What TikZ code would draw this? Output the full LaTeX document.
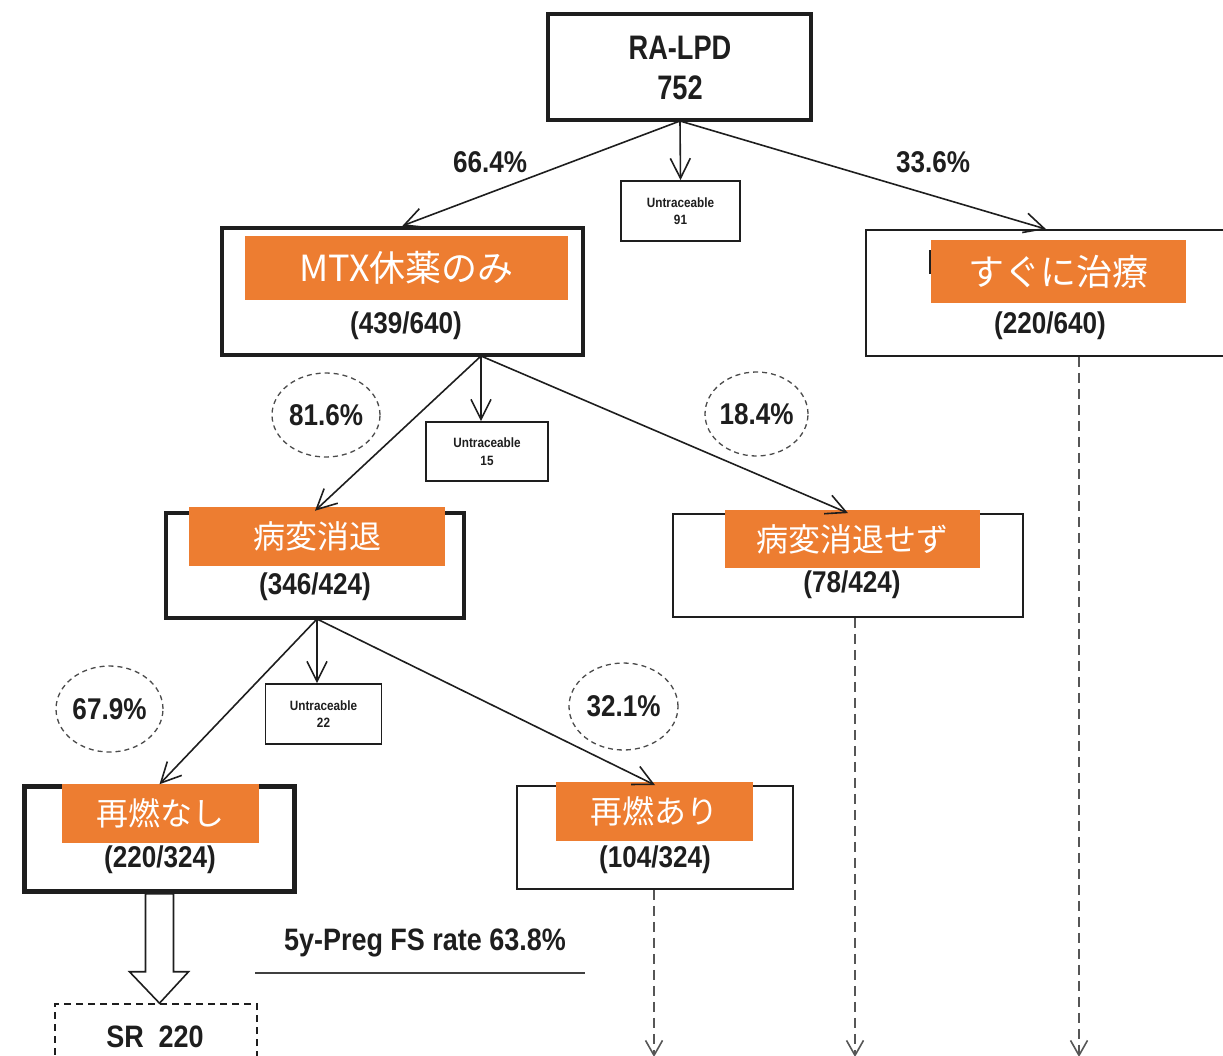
\documentclass[tikz,border=0pt]{standalone}
\usepackage{fontspec}
\setmainfont{Liberation Sans}
\newfontfamily\nar{Liberation Sans}[FakeStretch=0.8]
\newfontfamily\narb{Liberation Sans}[FakeStretch=0.87]
\newfontfamily\cjk{Noto Sans CJK JP}
\usetikzlibrary{arrows.meta,calc,shapes.geometric}
\definecolor{orng}{HTML}{ED7D31}
\definecolor{ink}{HTML}{1E1E1E}
\begin{document}
\begin{tikzpicture}[x=1pt,y=-1pt,
  thickbox/.style={draw=ink, line width=4.5pt, inner sep=0pt},
  thinbox/.style={draw=ink, line width=1.8pt, inner sep=0pt},
  orbox/.style={fill=orng, text=white, inner sep=0pt},
  jp/.style={font=\cjk\fontsize{#1}{#1}\selectfont},
  cnt/.style={inner sep=0pt, font=\narb\fontsize{30}{30}\selectfont\bfseries, text=ink},
  pct/.style={inner sep=0pt, font=\narb\fontsize{30}{30}\selectfont\bfseries, text=ink},
  untr/.style={inner sep=0pt, font=\narb\fontsize{13.5}{13.5}\selectfont\bfseries, text=ink, align=center},
  ell/.style={draw=ink!80, line width=1.3pt, dash pattern=on 5pt off 4pt, ellipse},
  conn/.style={draw=ink, line width=1.6pt, -{Straight Barb[length=20pt,width=20pt,line width=1.6pt]}},
  dconn/.style={draw=ink!75, line width=1.6pt, dash pattern=on 10pt off 6pt, -{Straight Barb[length=15pt,width=17pt,line width=1.6pt]}}
]
\useasboundingbox (0,0) rectangle (1223,1055);
\clip (0,0) rectangle (1223,1055);

% root
\node[thickbox, minimum width=263pt, minimum height=106pt] (root) at (679.5,67) {};
\node[inner sep=0pt, font=\nar\fontsize{34}{34}\selectfont\bfseries, text=ink] (rootA) at (680,48) {RA-LPD};
\node[inner sep=0pt, font=\nar\fontsize{34}{34}\selectfont\bfseries, text=ink] (rootB) at (680,88) {752};

% untraceable 91
\node[thinbox, minimum width=119pt, minimum height=60pt] (u91) at (680.5,211) {};
\node[untr] (u91t) at (680.5,211) {Untraceable\\[4pt]91};

% MTX box
\node[thickbox, minimum width=361pt, minimum height=127pt] (mtx) at (402.5,291.5) {};
\node[orbox, minimum width=323pt, minimum height=64pt, jp=36] (mtxl) at (406.5,268) {MTX休薬のみ};
\node[cnt] (mtxc) at (406,326) {(439/640)};

% right box
\node[thinbox, minimum width=360pt, minimum height=126pt] (imm) at (1046,293) {};
\fill[ink] (929,250) rectangle (934,274);
\node[orbox, minimum width=255pt, minimum height=63pt, jp=36] (imml) at (1058.5,271.5) {すぐに治療};
\node[cnt] (immc) at (1050,326) {(220/640)};

% level 1 connectors
\coordinate (rb) at (680,121);
\draw[conn] (rb) -- (u91.north);
\draw[conn] (rb) -- (mtx.north);
\draw[conn] (rb) -- (imm.north);
\node[pct] (p664) at (490,162) {66.4\%};
\node[pct] (p336) at (933,162) {33.6\%};

% untraceable 15
\node[thinbox, minimum width=122pt, minimum height=59pt] (u15) at (487,451.5) {};
\node[untr] (u15t) at (487,451.5) {Untraceable\\[4pt]15};

% regression boxes
\node[thickbox, minimum width=298pt, minimum height=105pt] (reg) at (315,565.5) {};
\node[orbox, minimum width=256pt, minimum height=59pt, jp=32] (regl) at (317,536.5) {病変消退};
\node[cnt] (regc) at (315,587) {(346/424)};

\node[thinbox, minimum width=350pt, minimum height=103pt] (nreg) at (848,565.5) {};
\node[orbox, minimum width=255pt, minimum height=58pt, jp=32] (nregl) at (852.5,539) {病変消退せず};
\node[cnt] (nregc) at (852,585) {(78/424)};

\coordinate (mb) at (481,356);
\draw[conn] (mb) -- (u15.north -| mb);
\draw[conn] (mb) -- (reg.north);
\draw[conn] (mb) -- (nreg.north);
\node[ell, minimum width=108pt, minimum height=84pt] (e816) at (326,415) {};
\node[pct] (p816) at (326,415) {81.6\%};
\node[ell, minimum width=103pt, minimum height=84pt] (e184) at (756.5,414) {};
\node[pct] (p184) at (756.5,414) {18.4\%};

% untraceable 22
\node[thinbox, minimum width=116pt, minimum height=60pt] (u22) at (323.5,714) {};
\node[untr] (u22t) at (323.5,714) {Untraceable\\[4pt]22};

% relapse boxes
\node[thickbox, minimum width=270pt, minimum height=105pt] (nrel) at (159.5,839) {};
\node[orbox, minimum width=197pt, minimum height=59pt, jp=32] (nrell) at (160.5,813.5) {再燃なし};
\node[cnt] (nrelc) at (160,860) {(220/324)};

\node[thinbox, minimum width=276pt, minimum height=103pt] (rel) at (655,837.5) {};
\node[orbox, minimum width=197pt, minimum height=59pt, jp=32] (rell) at (654.5,811.5) {再燃あり};
\node[cnt] (relc) at (655,860) {(104/324)};

\coordinate (bb) at (317,619);
\draw[conn] (bb) -- (u22.north -| bb);
\draw[conn] (bb) -- (nrel.north);
\draw[conn] (bb) -- (rel.north);
\node[ell, minimum width=107pt, minimum height=86pt] (e679) at (109.5,709) {};
\node[pct] (p679) at (109.5,709) {67.9\%};
\node[ell, minimum width=109pt, minimum height=87pt] (e321) at (623.5,706.5) {};
\node[pct] (p321) at (623.5,706.5) {32.1\%};

% SR box and hollow arrow
\node[draw=ink, line width=1.6pt, dash pattern=on 7pt off 5pt, minimum width=202pt, minimum height=80pt, inner sep=0pt] (sr) at (156,1044) {};
\node[inner sep=0pt, font=\narb\fontsize{31}{31}\selectfont\bfseries, text=ink] (srt) at (155,1037) {SR\ \ 220};
\draw[ink, line width=1.6pt, fill=white, line join=miter]
  ($(nrel.south)+(-14,0)$) -- ($(nrel.south)+(14,0)$) -- ($(nrel.south)+(14,78)$) -- ($(nrel.south)+(29,78)$)
  -- (sr.north -| nrel.south) -- ($(nrel.south)+(-30,78)$) -- ($(nrel.south)+(-14,78)$) -- cycle;

% 5y text
\node[inner sep=0pt, font=\narb\fontsize{31}{31}\selectfont\bfseries, text=ink] (fs) at (425,943) {5y-Preg FS rate 63.8\%};
\coordinate (ulA) at (255,973);
\coordinate (ulB) at (585,973);
\draw[ink!85, line width=2pt] (ulA) -- (ulB);

% dashed down arrows
\coordinate (d1) at (654,1057);
\coordinate (d2) at (855,1057);
\coordinate (d3) at (1079,1057);
\draw[dconn] (rel.south -| d1) -- (d1);
\draw[dconn] (nreg.south -| d2) -- (d2);
\draw[dconn] (imm.south -| d3) -- (d3);
\end{tikzpicture}
\end{document}
